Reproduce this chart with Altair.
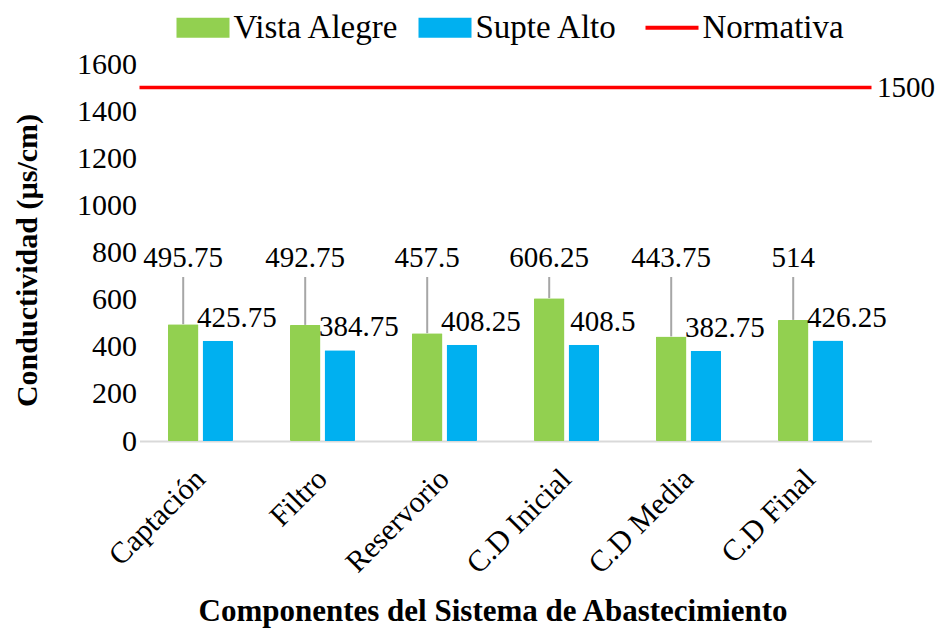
import altair as alt
import pandas as pd

# Conductividad por componente del sistema de abastecimiento
componentes = ["Captación", "Filtro", "Reservorio", "C.D Inicial", "C.D Media", "C.D Final"]
vista_alegre = [495.75, 492.75, 457.5, 606.25, 443.75, 514]
supte_alto = [425.75, 384.75, 408.25, 408.5, 382.75, 426.25]
normativa = 1500

series = ["Vista Alegre", "Supte Alto", "Normativa"]
colores = ["#92D050", "#00B0F0", "#FF0000"]
ticks_y = [0, 200, 400, 600, 800, 1000, 1200, 1400, 1600]

FONT = "'Liberation Serif', 'Times New Roman', 'DejaVu Serif', serif"

rows = []
for c, va, sa in zip(componentes, vista_alegre, supte_alto):
    rows.append({"componente": c, "serie": "Vista Alegre", "valor": va, "etiqueta": f"{va:g}"})
    rows.append({"componente": c, "serie": "Supte Alto", "valor": sa, "etiqueta": f"{sa:g}"})
df = pd.DataFrame(rows)
df_norm = pd.DataFrame({"serie": ["Normativa"], "valor": [normativa]})

x_enc = alt.X(
    "componente:N",
    sort=componentes,
    scale=alt.Scale(paddingInner=0.467, paddingOuter=0.2335),
    axis=alt.Axis(
        title="Componentes del Sistema de Abastecimiento",
        labelAngle=-45,
        labelAlign="right",
        labelBaseline="middle",
        labelFont=FONT,
        labelFontSize=30,
        labelColor="black",
        labelPadding=33,
        ticks=False,
        domainColor="#D9D9D9",
        domainWidth=2,
        titleFont=FONT,
        titleFontSize=31,
        titleFontWeight="bold",
        titleColor="black",
        titleX=353,
        titleY=170,
        titleAlign="center",
        titleBaseline="middle",
    ),
)
xoff_enc = alt.XOffset(
    "serie:N",
    sort=["Vista Alegre", "Supte Alto"],
    scale=alt.Scale(paddingInner=0.12, paddingOuter=0),
)
y_scale = alt.Scale(domain=[0, 1600], nice=False)

es_norma = "datum.value === 'Normativa'"
color_enc = alt.Color(
    "serie:N",
    scale=alt.Scale(domain=series, range=colores),
    legend=alt.Legend(
        title=None,
        orient="none",
        direction="horizontal",
        legendX=47,
        legendY=-53,
        labelFont=FONT,
        labelFontSize=33,
        labelColor="black",
        labelLimit=400,
        labelOffset=14,
        columnPadding=19,
        symbolSize=2809,
        symbolOpacity=1,
        symbolType={"expr": f"{es_norma} ? 'M-1,0L1,0' : 'M-1,-0.38L1,-0.38L1,0.38L-1,0.38Z'"},
        symbolStrokeColor={"expr": "scale('color', datum.value)"},
        symbolFillColor={"expr": "scale('color', datum.value)"},
        symbolStrokeWidth={"expr": f"{es_norma} ? 4 : 0"},
    ),
)

bars = alt.Chart(df).mark_bar(cornerRadius=1).encode(
    x=x_enc,
    xOffset=xoff_enc,
    y=alt.Y(
        "valor:Q",
        scale=y_scale,
        axis=alt.Axis(
            title="Conductividad (µs/cm)",
            values=ticks_y,
            format="d",
            grid=False,
            ticks=False,
            domain=False,
            labelFont=FONT,
            labelFontSize=30,
            labelColor="black",
            labelPadding=3,
            titleFont=FONT,
            titleFontSize=30,
            titleFontWeight="bold",
            titleColor="black",
            titleX=-112,
            titleY=196,
            titleAngle=-90,
            titleAlign="center",
            titleBaseline="middle",
        ),
    ),
    color=color_enc,
)

norma = alt.Chart(df_norm).mark_rule(strokeWidth=3.5).encode(
    y=alt.Y("valor:Q", scale=y_scale),
    color=alt.Color("serie:N", scale=alt.Scale(domain=series, range=colores)),
)

norma_txt = alt.Chart(df_norm).mark_text(
    font=FONT, fontSize=29, align="left", baseline="middle", color="black"
).encode(
    x=alt.value(737.5),
    y=alt.Y("valor:Q", scale=y_scale),
    text=alt.Text("valor:Q", format="d"),
)

verde = alt.Chart(df).transform_filter(alt.datum.serie == "Vista Alegre")

guias = verde.transform_calculate(guia="696").mark_rule(color="#A6A6A6", strokeWidth=2).encode(
    x=alt.X("componente:N", sort=componentes),
    xOffset=alt.XOffset("serie:N", sort=["Vista Alegre", "Supte Alto"]),
    y=alt.Y("guia:Q", scale=y_scale),
    y2="valor:Q",
)

etiq_verde = verde.transform_calculate(pos="777").mark_text(
    font=FONT, fontSize=29, baseline="middle", align="center", color="black"
).encode(
    x=alt.X("componente:N", sort=componentes),
    xOffset=alt.XOffset("serie:N", sort=["Vista Alegre", "Supte Alto"]),
    y=alt.Y("pos:Q", scale=y_scale),
    text="etiqueta:N",
)

etiq_azul = alt.Chart(df).transform_filter(alt.datum.serie == "Supte Alto").mark_text(
    font=FONT, fontSize=29, baseline="middle", align="center", color="black", dx=19, dy=-23
).encode(
    x=alt.X("componente:N", sort=componentes),
    xOffset=alt.XOffset("serie:N", sort=["Vista Alegre", "Supte Alto"]),
    y=alt.Y("valor:Q", scale=y_scale),
    text="etiqueta:N",
)

chart = alt.layer(bars, norma, norma_txt, guias, etiq_verde, etiq_azul).properties(
    width=732,
    height=377,
    autosize="none",
    padding={"left": 139.5, "top": 64, "right": 67.5, "bottom": 187},
    background="white",
).configure_view(stroke=None)

chart.save("out.html", embed_options={"renderer": "svg", "actions": False})
